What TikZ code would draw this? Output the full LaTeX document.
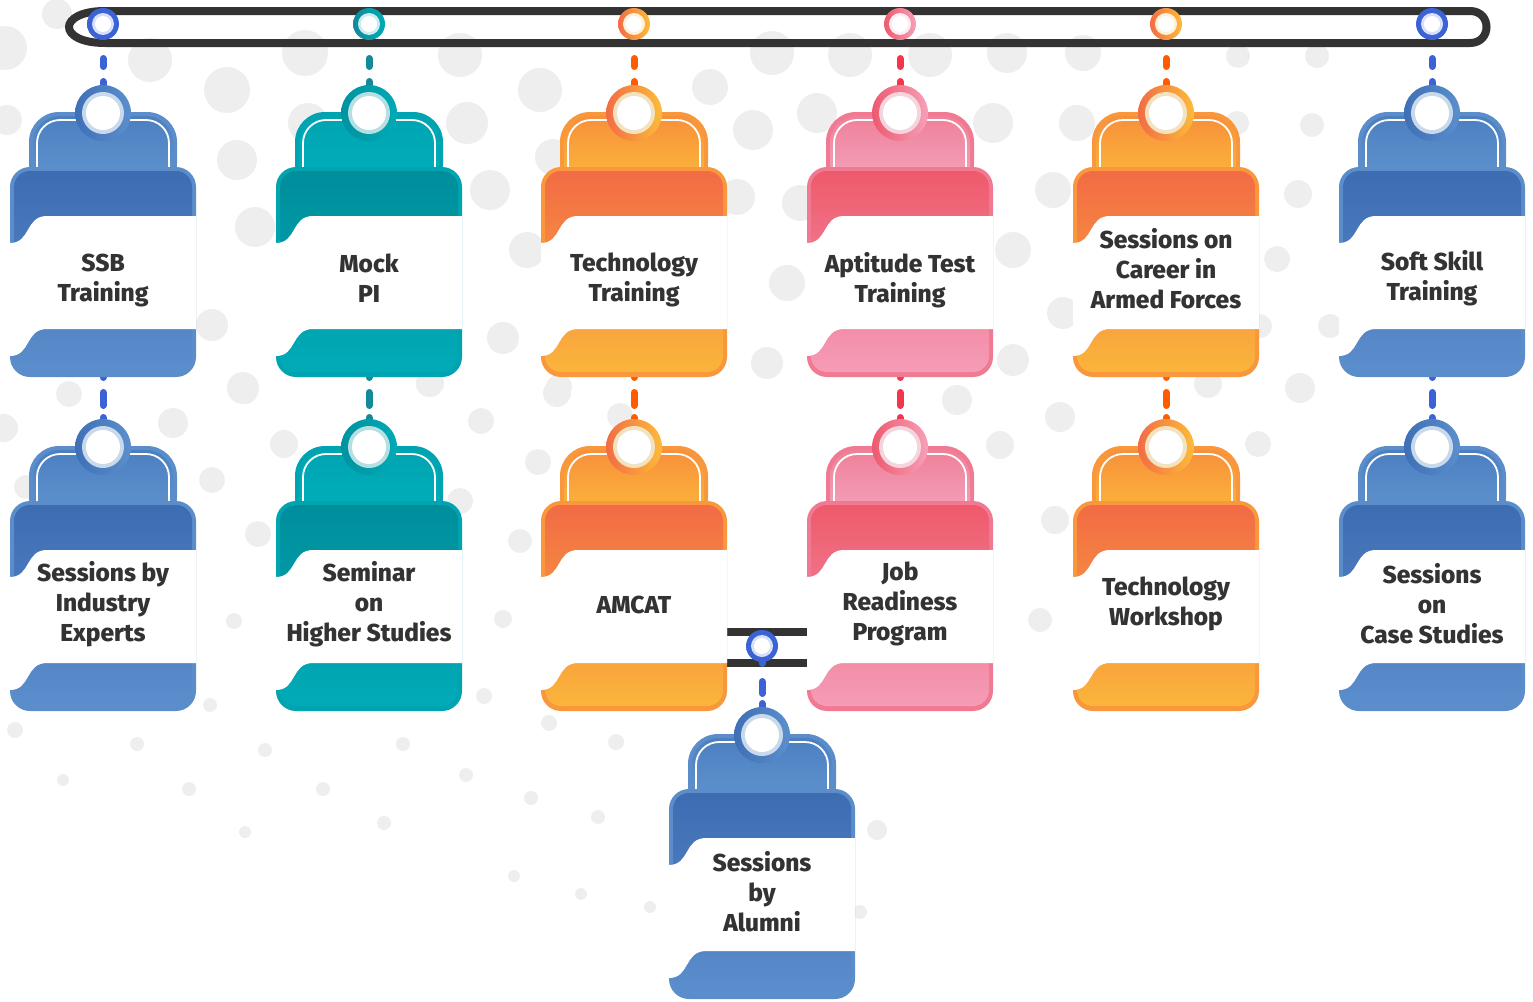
\documentclass[tikz,border=0pt]{standalone}
\usepackage{fontspec}
\setmainfont{Fira Sans}[BoldFont={Fira Sans ExtraBold}]

% colour schemes of the cards
\definecolor{blueedge}{HTML}{5A8DCA}
\definecolor{bluetop}{HTML}{3E6CB3}
\definecolor{bluebot}{HTML}{5B8ECC}
\definecolor{bluetabtop}{HTML}{4C7FC1}
\definecolor{bluetabbot}{HTML}{6398D1}
\definecolor{blueringl}{HTML}{3F6FB5}
\definecolor{blueringr}{HTML}{5B8FCC}
\definecolor{bluepale}{HTML}{C9D9EC}

\definecolor{tealedge}{HTML}{00A3B0}
\definecolor{tealtop}{HTML}{008E9B}
\definecolor{tealbot}{HTML}{00ABB7}
\definecolor{tealtabtop}{HTML}{00A4B1}
\definecolor{tealtabbot}{HTML}{00B1BD}
\definecolor{tealringl}{HTML}{00929F}
\definecolor{tealringr}{HTML}{00AAB6}
\definecolor{tealpale}{HTML}{B5DFE3}

\definecolor{orangeedge}{HTML}{F8973C}
\definecolor{orangetop}{HTML}{F26B45}
\definecolor{orangebot}{HTML}{FBB53B}
\definecolor{orangetabtop}{HTML}{F7903B}
\definecolor{orangetabbot}{HTML}{FDBE3A}
\definecolor{orangeringl}{HTML}{F26C45}
\definecolor{orangeringr}{HTML}{FDBB3A}
\definecolor{orangepale}{HTML}{F3E2C0}

\definecolor{pinkedge}{HTML}{F07A92}
\definecolor{pinktop}{HTML}{EE5A6B}
\definecolor{pinkbot}{HTML}{F59CB8}
\definecolor{pinktabtop}{HTML}{EF8099}
\definecolor{pinktabbot}{HTML}{F5A9C2}
\definecolor{pinkringl}{HTML}{EE5A6E}
\definecolor{pinkringr}{HTML}{F6A0B8}
\definecolor{pinkpale}{HTML}{F4D5DD}

\definecolor{linkblue}{HTML}{3B63D6}
\definecolor{linkteal}{HTML}{13899A}
\definecolor{linkorange}{HTML}{FF5C00}
\definecolor{linkpink}{HTML}{F4364D}
\definecolor{railgray}{HTML}{333333}
\definecolor{dotgray}{HTML}{EEEEEE}
\definecolor{textgray}{HTML}{333333}

\pgfdeclarelayer{dots}
\pgfdeclarelayer{links}
\pgfsetlayers{dots,links,main}

\tikzset{
  cardtext/.style={font=\bfseries\fontsize{24.5}{30}\selectfont, text=textgray, align=center},
  cardring/.style={circle, minimum size=56pt, inner sep=0pt},
  railpin/.style={circle, minimum size=32pt, inner sep=0pt},
  rail/.style={draw=railgray, line width=8pt},
  link/.style={line width=7pt, line cap=round},
  topdash/.style={dash pattern=on 19.5pt off 15pt on 8pt off 15pt on 80pt},
  rowdash/.style={dash pattern=on 2.5pt off 15pt on 13pt off 12pt on 60pt},
  middash/.style={dash pattern=on 17.5pt off 18pt on 12pt off 10pt on 60pt}
}

% card: [text offset] name, x, ring y, scheme, text
\newcommand{\tagcard}[6][157]{%
  \fill[#5edge, rounded corners=30pt] ({#3-74},{#4-1}) rectangle ({#3+74},{#4+80});
  \shade[top color=#5tabtop, bottom color=#5tabbot, rounded corners=27pt] ({#3-70},{#4+3}) rectangle ({#3+70},{#4+80});
  \draw[white, line width=1.8pt, rounded corners=23pt] ({#3-66},{#4+58}) -- ({#3-66},{#4+7}) -- ({#3+66},{#4+7}) -- ({#3+66},{#4+58});
  \fill[#5edge, rounded corners=20pt] ({#3-93},{#4+54}) rectangle ({#3+93},{#4+264});
  \shade[top color=#5top, bottom color=#5bot, rounded corners=16pt] ({#3-89},{#4+58}) rectangle ({#3+89},{#4+259});
  \fill[white] ({#3-93},{#4+130}) .. controls ({#3-72},{#4+130}) and ({#3-78},{#4+103}) .. ({#3-56},{#4+103})
    -- ({#3+93},{#4+103}) -- ({#3+93},{#4+216}) -- ({#3-56},{#4+216})
    .. controls ({#3-78},{#4+216}) and ({#3-72},{#4+243}) .. ({#3-93},{#4+243}) -- cycle;
  \node[cardtext] at ({#3},{#4+#1}) {#6};
  \node[cardring, left color=#5ringl, right color=#5ringr] (#2) at (#3,#4) {};
  \fill[#5pale] (#2) circle (21pt);
  \fill[white] (#2) circle (17pt);
  \coordinate (#2-foot) at ({#3},{#4+262});
}

\newcommand{\railpin}[4]{%
  \node[railpin, left color=#3, right color=#4] (#1) at #2 {};
  \fill[white!80!#4] (#1) circle (11pt);
  \fill[white] (#1) circle (8pt);
}

\begin{document}
\begin{tikzpicture}[x=1pt, y=-1pt]
	\useasboundingbox (0,0) rectangle (1533,1001);

	% background dots
	\begin{pgfonlayer}{dots}
	\foreach \x/\y/\r in {5/48/22, 150/60/22, 227/90/23, 305/53/23, 460/55/22, 540/90/22, 772/53/22, 850/55/22,
	  930/55/22, 1007/53/20, 1083/53/18, 710/87/18, 1238/56/12, 1317/56/12, 57/14/15, 7/120/15,
	  237/160/20, 308/123/20, 467/123/21, 553/157/18, 255/227/20, 490/190/20, 527/250/18, 212/325/16,
	  503/338/16, 243/388/16, 430/383/14, 557/393/14, 753/130/20, 817/113/20, 993/123/20, 1077/123/18,
	  737/197/18, 800/203/18, 1053/190/18, 787/283/18, 1013/250/18, 1063/313/16, 767/363/16, 1013/360/16,
	  957/400/15, 1060/417/15, 1237/123/12, 1312/125/12, 1298/194/14, 1277/259/13, 1330/326/12, 1260/326/12,
	  1208/384/14, 1300/388/15, 1258/444/13, 69/394/13, 173/423/15, 4/428/14, 245/391/13, 429/384/13,
	  481/421/13, 559/387/13, 284/444/14, 212/480/13, 26/487/12, 620/416/13, 538/462/13, 460/501/13,
	  258/534/13, 520/541/12, 234/621/8, 503/619/9, 210/705/7, 15/730/8, 137/744/7, 265/750/7,
	  403/744/7, 616/742/8, 549/723/8, 484/696/8, 63/780/6, 189/789/7, 323/789/7, 466/775/7,
	  245/832/6, 384/823/7, 531/798/7, 598/817/7, 514/876/6, 581/894/6, 650/907/6, 1040/620/12,
	  1055/520/14, 1000/445/14, 877/830/10, 860/912/7}
	  \fill[dotgray] (\x,\y) circle (\r pt);
	\end{pgfonlayer}

	% top rail
	\draw[rail] (105,11) -- (1470,11) .. controls (1492,11) and (1492,43) .. (1470,43)
	  -- (105,43) .. controls (57,43) and (57,11) .. (105,11) -- cycle;

	\railpin{pin1}{(103,24)}{linkblue}{linkblue}
	\railpin{pin2}{(369,24)}{linkteal}{tealringr}
	\railpin{pin3}{(634,24)}{orangeringl}{orangeringr}
	\railpin{pin4}{(900,24)}{pinkringl}{pinkringr}
	\railpin{pin5}{(1166,24)}{orangeringl}{orangeringr}
	\railpin{pin6}{(1432,24)}{linkblue}{linkblue}

	% cards
	\tagcard[168]{ssb}{103}{113}{blue}{SSB\\Training}
	\tagcard[165]{mockpi}{369}{113}{teal}{Mock\\PI}
	\tagcard[167]{techtrain}{634}{113}{orange}{Technology\\Training}
	\tagcard[167]{aptitude}{900}{113}{pink}{Aptitude Test\\Training}
	\tagcard[156]{armed}{1166}{113}{orange}{Sessions on\\Career in\\Armed Forces}
	\tagcard[165]{softskill}{1432}{113}{blue}{Soft Skill\\Training}

	\tagcard{industry}{103}{447}{blue}{Sessions by\\Industry\\Experts}
	\tagcard{seminar}{369}{447}{teal}{Seminar\\on\\Higher Studies}
	\tagcard[158]{amcat}{634}{447}{orange}{AMCAT}
	\tagcard{jobready}{900}{447}{pink}{Job\\Readiness\\Program}
	\tagcard{workshop}{1166}{447}{orange}{Technology\\Workshop}
	\tagcard{casestudy}{1432}{447}{blue}{Sessions\\on\\Case Studies}

	\railpin{pin7}{(762,646)}{linkblue}{linkblue}
	\tagcard{alumni}{762}{735}{blue}{Sessions\\by\\Alumni}

	% links behind the cards
	\begin{pgfonlayer}{links}
	\draw[railgray, line width=8pt] (700,632) -- (835,632);
	\draw[railgray, line width=8pt] (700,663) -- (835,663);

	\draw[link, topdash, linkblue] (pin1.center) -- (ssb.center);
	\draw[link, topdash, linkteal] (pin2.center) -- (mockpi.center);
	\draw[link, topdash, linkorange] (pin3.center) -- (techtrain.center);
	\draw[link, topdash, linkpink] (pin4.center) -- (aptitude.center);
	\draw[link, topdash, linkorange] (pin5.center) -- (armed.center);
	\draw[link, topdash, linkblue] (pin6.center) -- (softskill.center);

	\draw[link, rowdash, linkblue] (ssb-foot) -- (industry.center);
	\draw[link, rowdash, linkteal] (mockpi-foot) -- (seminar.center);
	\draw[link, rowdash, linkorange] (techtrain-foot) -- (amcat.center);
	\draw[link, rowdash, linkpink] (aptitude-foot) -- (jobready.center);
	\draw[link, rowdash, linkorange] (armed-foot) -- (workshop.center);
	\draw[link, rowdash, linkblue] (softskill-foot) -- (casestudy.center);

	\draw[link, middash, linkblue] (pin7.center) -- (alumni.center);
	\end{pgfonlayer}
\end{tikzpicture}
\end{document}
